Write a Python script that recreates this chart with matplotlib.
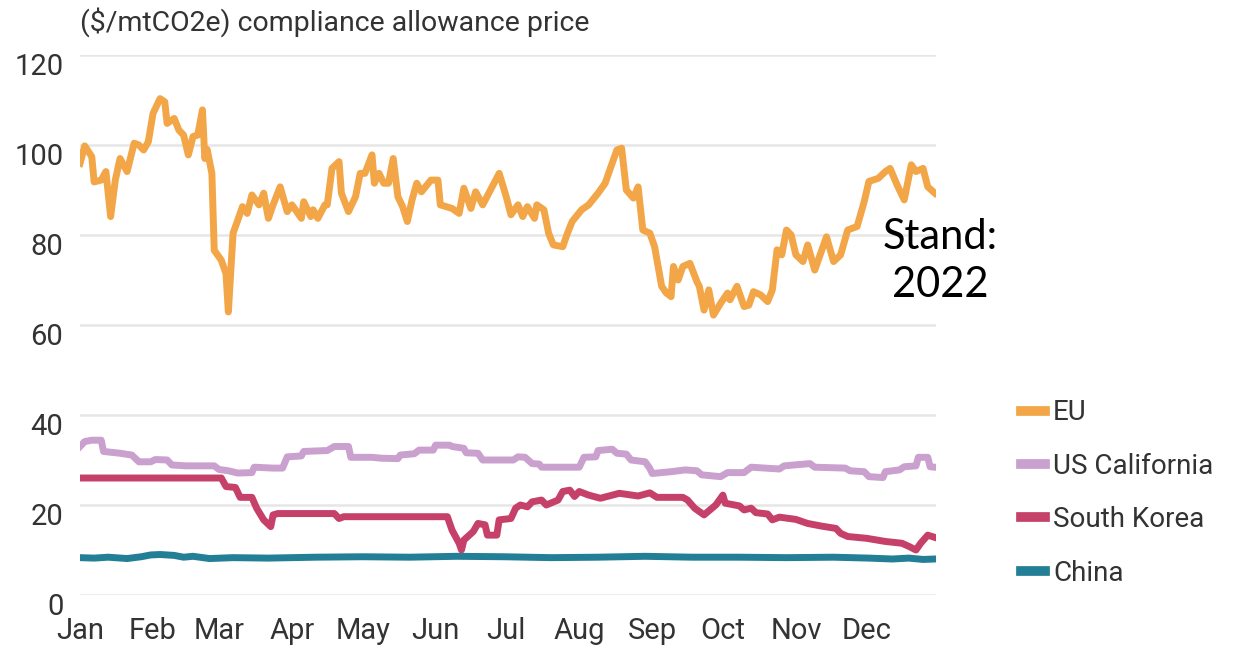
import matplotlib
matplotlib.use("Agg")
import matplotlib.pyplot as plt
import matplotlib.transforms as mtransforms

# day of year (0 = 1 Jan 2022) and price in $/mtCO2e
eu_days = [0, 2, 5, 6, 9, 11, 13, 15, 17, 20, 23, 25, 27, 29, 31, 34, 36, 37, 40, 42,
           44, 46, 48, 50, 52, 53, 54, 56, 57, 60, 62, 63, 65, 67, 69, 71, 73, 76, 78, 80,
           82, 85, 88, 90, 94, 95, 98, 99, 101, 104, 105, 107, 110, 111, 114, 117, 119, 121, 124, 125,
           127, 129, 131, 133, 135, 137, 139, 141, 143, 145, 149, 152, 153, 158, 161, 163, 166, 168, 171, 175,
           178, 181, 183, 186, 188, 190, 193, 194, 197, 199, 201, 205, 207, 209, 213, 216, 220, 223, 225, 228,
           230, 232, 235, 237, 239, 242, 244, 247, 249, 251, 252, 254, 256, 259, 262, 263, 265, 267, 269, 272,
           275, 276, 279, 282, 284, 286, 289, 292, 294, 296, 298, 300, 302, 304, 307, 309, 312, 316, 317, 320,
           323, 326, 330, 333, 335, 339, 342, 344, 347, 350, 353, 355, 358, 360, 363]
eu_vals = [95.9, 99.8, 97.4, 91.8, 92.2, 94.1, 84.1, 92.2, 97.0, 94.1, 100.4, 100.0, 98.9, 100.7, 107.0, 110.3, 109.6, 104.8, 105.9, 103.3,
           102.2, 97.8, 101.9, 102.2, 107.8, 97.0, 99.0, 93.7, 76.6, 74.4, 71.4, 62.9, 80.4, 83.3, 86.3, 84.8, 88.9, 86.7, 89.3, 83.7,
           86.7, 90.7, 85.2, 86.7, 83.7, 87.4, 84.1, 85.6, 83.7, 86.7, 86.7, 94.8, 96.3, 89.3, 85.2, 88.5, 93.7, 93.7, 97.8, 91.5,
           93.7, 91.5, 91.5, 97.0, 88.5, 86.3, 83.0, 87.8, 91.5, 89.6, 92.2, 92.2, 86.7, 85.9, 84.8, 90.4, 85.9, 89.6, 86.7, 90.7,
           93.7, 88.5, 84.5, 86.7, 84.1, 86.3, 83.7, 86.7, 85.6, 80.4, 77.8, 77.4, 80.4, 83.0, 85.6, 86.7, 89.3, 91.5, 94.5, 98.9,
           99.3, 90.0, 88.2, 90.7, 81.1, 80.4, 77.4, 68.6, 67.1, 66.3, 73.0, 70.0, 73.0, 73.7, 69.6, 68.6, 63.3, 67.8, 62.2, 64.8,
           67.1, 65.6, 68.6, 64.1, 64.4, 67.4, 66.7, 65.2, 67.8, 76.7, 75.6, 81.1, 80.0, 75.6, 74.1, 77.8, 72.2, 78.1, 79.6, 74.1,
           75.6, 81.1, 81.9, 87.4, 91.9, 92.6, 94.1, 94.8, 91.1, 87.8, 95.6, 94.1, 94.8, 90.7, 89.3]

cal_days = [0, 2, 5, 9, 10, 17, 22, 25, 30, 32, 37, 39, 45, 57, 59, 63, 67, 73, 74, 82,
            86, 88, 94, 95, 105, 108, 114, 115, 124, 128, 135, 136, 142, 144, 150, 151, 157, 158, 163, 164,
            169, 171, 184, 186, 189, 192, 195, 196, 212, 214, 219, 220, 226, 228, 232, 234, 240, 242, 243, 251,
            257, 262, 264, 272, 275, 282, 285, 297, 299, 310, 312, 325, 327, 333, 335, 341, 342, 348, 350, 355,
            356, 360, 361, 363]
cal_vals = [33.0, 34.1, 34.4, 34.4, 31.9, 31.5, 31.1, 29.6, 29.6, 30.1, 30.0, 28.9, 28.7, 28.7, 27.9, 27.6, 27.1, 27.2, 28.4, 28.2,
            28.2, 30.7, 30.9, 31.9, 32.1, 33.0, 33.0, 30.6, 30.6, 30.4, 30.3, 31.1, 31.4, 32.2, 32.2, 33.3, 33.3, 33.0, 32.6, 31.6,
            31.5, 30.0, 30.0, 30.7, 30.6, 29.2, 29.1, 28.4, 28.4, 30.6, 30.7, 32.1, 32.4, 31.5, 31.3, 30.0, 29.6, 28.1, 27.0, 27.4,
            27.8, 27.6, 26.7, 26.3, 27.2, 27.2, 28.4, 28.0, 28.7, 29.2, 28.4, 28.2, 27.6, 27.4, 26.3, 26.1, 27.4, 27.8, 28.5, 28.7,
            30.6, 30.6, 28.5, 28.4]

kor_days = [0, 60, 62, 66, 68, 73, 75, 78, 81, 82, 84, 108, 110, 112, 156, 158, 161, 162, 163, 167,
            169, 172, 173, 177, 178, 183, 185, 187, 190, 192, 196, 198, 203, 205, 208, 210, 212, 216, 221, 229,
            237, 242, 245, 256, 258, 261, 265, 270, 273, 274, 280, 282, 285, 287, 292, 294, 297, 304, 309, 315,
            321, 323, 326, 334, 342, 349, 352, 355, 357, 360, 363]
kor_vals = [26.0, 26.0, 24.1, 23.9, 21.7, 21.7, 19.3, 16.7, 15.2, 17.8, 18.1, 18.1, 17.0, 17.4, 17.4, 14.4, 11.5, 10.0, 12.2, 14.1,
            15.9, 15.6, 13.3, 13.3, 16.7, 17.0, 19.3, 20.0, 19.6, 20.7, 21.1, 20.0, 21.1, 23.0, 23.3, 21.9, 23.0, 22.2, 21.5, 22.6,
            22.0, 22.7, 21.7, 21.7, 21.1, 19.3, 17.8, 20.0, 22.2, 20.4, 19.8, 18.9, 19.3, 18.3, 18.0, 16.7, 17.3, 16.8, 15.9, 15.3,
            14.8, 13.7, 13.0, 12.6, 11.9, 11.5, 10.8, 10.0, 11.5, 13.3, 12.8]

chn_days = [0, 6, 12, 20, 26, 30, 34, 40, 44, 48, 55, 65, 80, 100, 120, 140, 160, 180, 200, 220,
            240, 260, 280, 300, 320, 335, 345, 352, 358, 363]
chn_vals = [8.3, 8.2, 8.4, 8.1, 8.5, 8.9, 9.0, 8.8, 8.4, 8.6, 8.1, 8.3, 8.2, 8.4, 8.5, 8.4, 8.6, 8.5, 8.3, 8.4,
            8.6, 8.4, 8.4, 8.3, 8.4, 8.2, 8.0, 8.2, 7.9, 8.0]

month_starts = [0, 31, 59, 90, 120, 151, 181, 212, 243, 273, 304, 334]
month_labels = ['Jan', 'Feb', 'Mar', 'Apr', 'May', 'Jun', 'Jul', 'Aug', 'Sep', 'Oct', 'Nov', 'Dec']

plt.rcParams['font.family'] = ['Roboto', 'DejaVu Sans']

fig = plt.figure(figsize=(12.41, 6.57), dpi=100)
ax = fig.add_axes([80 / 1241, 62 / 657, 856 / 1241, 540 / 657])

ax.plot(eu_days, eu_vals, color='#F2A648', lw=5, label='EU', solid_joinstyle='round')
ax.plot(cal_days, cal_vals, color='#C9A0CE', lw=5, label='US California')
ax.plot(kor_days, kor_vals, color='#C6416A', lw=5, label='South Korea')
ax.plot(chn_days, chn_vals, color='#227F96', lw=5, label='China')

ax.set_xlim(0, 363.5)
ax.set_ylim(0, 120)
ax.set_yticks([0, 20, 40, 60, 80, 100, 120])
ax.set_xticks(month_starts)
ax.set_xticklabels(month_labels)
ax.grid(axis='y', color='#e6e6e6', lw=1.8)
ax.set_axisbelow(True)
for s in ax.spines.values():
    s.set_visible(False)
ax.tick_params(axis='both', length=0, labelsize=21, labelcolor='#333333')
ax.tick_params(axis='y', pad=12)
ax.tick_params(axis='x', pad=16)

# y labels sit a little below their grid lines
offset = mtransforms.ScaledTranslation(0, -0.09, fig.dpi_scale_trans)
for lab in ax.get_yticklabels():
    lab.set_transform(lab.get_transform() + offset)

fig.text(80 / 1241, 1 - 22 / 657, '($/mtCO2e) compliance allowance price',
         fontsize=20.5, color='#333333', va='center', ha='left')

leg = ax.legend(loc='center left', bbox_to_anchor=(996 / 1241, 1 - 493 / 657),
                bbox_transform=fig.transFigure, frameon=False, fontsize=20,
                handlelength=0.85, handletextpad=0.3, labelspacing=0.95)
for line in leg.get_lines():
    line.set_linewidth(7)
for t in leg.get_texts():
    t.set_color('#333333')

fig.text(940 / 1241, 1 - 261 / 657, 'Stand:\n2022', fontsize=30, family='Lato',
         ha='center', va='center', linespacing=1.35, color='black')

fig.savefig('out.png', dpi=100)
